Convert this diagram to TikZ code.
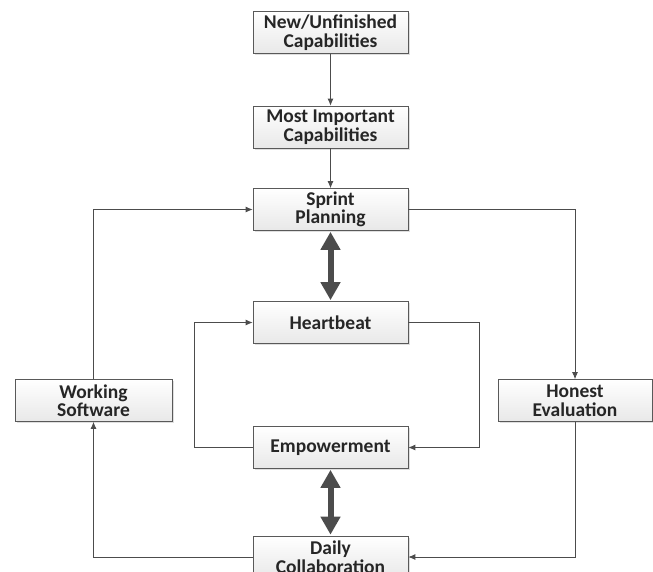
\documentclass[tikz,border=0pt]{standalone}
\usepackage{fontspec}
\setmainfont{Carlito}
\usetikzlibrary{arrows.meta,shadows}

\tikzset{
  stage/.style={draw=gray!70!black,line width=0.7pt,top color=white,bottom color=gray!18,
    minimum width=155pt,minimum height=42pt,align=center,inner sep=1pt,
    font=\fontsize{19.5}{18.5}\selectfont\bfseries,text=black!85,
    drop shadow={shadow xshift=1.5pt,shadow yshift=-1.5pt,opacity=0.25}},
  flow/.style={draw=gray!60!black,line width=0.8pt,-{Latex[length=7pt,width=6pt]}},
  bothway/.style={draw=black!70,line width=6pt,
    {Triangle[length=18pt,width=19pt]}-{Triangle[length=18pt,width=19pt]}},
}

\begin{document}
\begin{tikzpicture}[x=1pt,y=-1pt]
  \useasboundingbox (0,0) rectangle (653,571);
  \node[stage](New)   at(330.5, 32.5){New/Unfinished\\Capabilities};
  \node[stage](Imp)   at(330.5,127.0){Most Important\\Capabilities};
  \node[stage](Sprint)at(330.5,209.5){Sprint\\Planning};
  \node[stage](Heart) at(330.5,322.5){Heartbeat};
  \node[stage](Emp)   at(330.5,447.5){Empowerment};
  \node[stage](Daily) at(330.5,557.0){Daily\\Collaboration};
  \node[stage,minimum width=157pt](Work)  at( 93.5,400.5){Working\\Software};
  \node[stage,minimum width=154pt](Honest)at(575.0,400.5){Honest\\Evaluation};
  % backlog into planning
  \draw[flow](New)--(Imp);
  \draw[flow](Imp)--(Sprint);
  % outer cycle
  \draw[flow](Sprint.east)-|(Honest.north);
  \draw[flow](Honest.south)|-(Daily.east);
  \draw[flow](Daily.west)-|(Work.south);
  \draw[flow](Work.north)|-(Sprint.west);
  % inner cycle
  \coordinate(HR) at(479,322.5);
  \coordinate(EL) at(194,447.5);
  \draw[flow](Heart.east)--(HR)|-(Emp.east);
  \draw[flow](Emp.west)--(EL)|-(Heart.west);
  % two-way links
  \draw[bothway]([yshift=-1pt]Sprint.south)--([yshift=1pt]Heart.north);
  \draw[bothway]([yshift=-1pt]Emp.south)--([yshift=1pt]Daily.north);
\end{tikzpicture}
\end{document}
